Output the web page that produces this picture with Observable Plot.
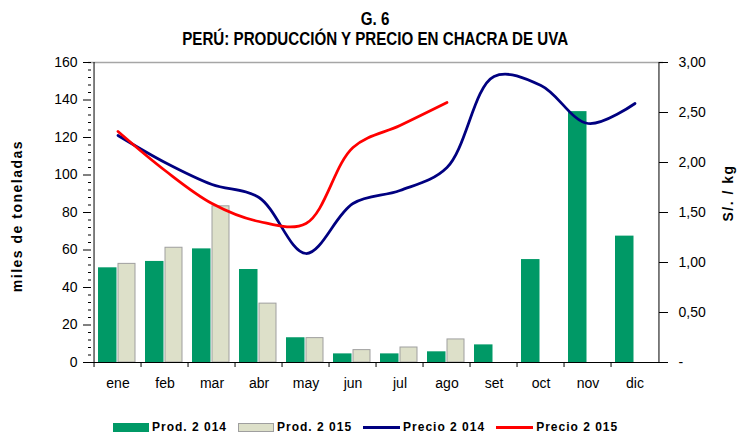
<!DOCTYPE html>
<html>
<head>
<meta charset="utf-8">
<script src="https://cdn.jsdelivr.net/npm/d3@7"></script>
<script src="https://cdn.jsdelivr.net/npm/@observablehq/plot@0.6"></script>
<style>
  html, body { margin: 0; padding: 0; background: #fff; }
  #wrap { position: relative; width: 738px; height: 433px; overflow: hidden; font-family: "Liberation Sans", Arial, sans-serif; color: #000; }
  .title { position: absolute; left: 0; width: 750px; text-align: center; font-weight: bold; font-size: 18px; line-height: 20px; white-space: nowrap; }
  .title span { display: inline-block; font-family: "Liberation Sans Narrow", "Arial Narrow", "Liberation Sans", Arial, sans-serif; transform-origin: 50% 50%; }
  #t1 { top: 9px; }
  #t2 { top: 29px; }
  #chart { position: absolute; left: 0; top: 50px; }
  .axlab { position: absolute; width: 220px; text-align: center; font-weight: bold; font-size: 14px; line-height: 16px; letter-spacing: 1.5px; white-space: nowrap; transform: rotate(-90deg); transform-origin: 50% 50%; }
  #legend { position: absolute; left: 113px; top: 419px; height: 16px; display: flex; align-items: center; font-size: 12px; font-weight: bold; letter-spacing: 1px; white-space: nowrap; }
  .item { display: flex; align-items: center; margin-right: 11px; }
  .sw { width: 36px; height: 9px; margin-right: 3px; box-sizing: border-box; }
  .ln { width: 37px; height: 3px; margin-right: 3px; }
</style>
</head>
<body>
<div id="wrap">
  <div id="t1" class="title"><span>G. 6</span></div>
  <div id="t2" class="title"><span>PERÚ: PRODUCCIÓN Y PRECIO EN CHACRA DE UVA</span></div>
  <div id="chart"></div>
  <div class="axlab" id="ylab" style="left:-93px; top:208px;">miles de toneladas</div>
  <div class="axlab" id="y2lab" style="left:618px; top:185px;">S/. / kg</div>
  <div id="legend"></div>
</div>
<script>
// ---- data ----
const months = ["ene","feb","mar","abr","may","jun","jul","ago","set","oct","nov","dic"];
const prod2014 = [50.5, 53.9, 60.6, 49.6, 13.2, 4.6, 4.6, 5.7, 9.4, 54.9, 133.8, 67.4];
const prod2015 = [52.6, 61.2, 83.3, 31.4, 13.0, 6.6, 8.0, 12.3];
const precio2014 = [2.27, 2.00, 1.78, 1.65, 1.09, 1.59, 1.72, 1.95, 2.86, 2.77, 2.39, 2.59];
const precio2015 = [2.31, 1.92, 1.59, 1.41, 1.39, 2.15, 2.37, 2.60];
const leftTicks = [0, 20, 40, 60, 80, 100, 120, 140, 160];
const leftMinorTicks = d3.range(0, 161, 4);
const rightTicks = [0, 0.5, 1, 1.5, 2, 2.5, 3];
const rightTickLabels = ["-", "0,50", "1,00", "1,50", "2,00", "2,50", "3,00"];
const seriesNames = ["Prod. 2 014", "Prod. 2 015", "Precio 2 014", "Precio 2 015"];
const seriesColors = ["#009966", "#dde0c9", "#000080", "#ff0000"];

// ---- tables ----
const k = 160 / 3; // right axis (S/./kg) mapped onto left scale
const rows14 = prod2014.map((v, i) => ({month: months[i], v}));
const rows15 = prod2015.map((v, i) => ({month: months[i], v}));
const p14 = precio2014.map((p, i) => ({month: months[i], p}));
const p15 = precio2015.map((p, i) => ({month: months[i], p}));
const rightTicksScaled = rightTicks.map(v => v * k);

const W = 738, H = 355, ML = 88, MR = 75, MT = 12, MB = 43;
const bw = (W - ML - MR) / months.length;

const chart = Plot.plot({
  width: W, height: H,
  marginLeft: ML, marginRight: MR, marginTop: MT, marginBottom: MB,
  x: {type: "band", domain: months, padding: 0, axis: null},
  y: {domain: [0, 160], axis: null},
  style: {fontFamily: "'Liberation Sans', Arial, sans-serif", fontSize: "14px", color: "#000", background: "#fff", overflow: "visible"},
  marks: [
    Plot.barY(rows14, {x: "month", y: "v", fill: seriesColors[0], insetLeft: 4, insetRight: 24.5}),
    Plot.barY(rows15, {x: "month", y: "v", fill: seriesColors[1], stroke: "#9f9f9f", strokeWidth: 1, insetLeft: 24, insetRight: 6}),
    Plot.ruleY([160], {stroke: "#a6a6a6", strokeWidth: 1.5}),
    Plot.ruleY([0], {stroke: "#000", strokeWidth: 1}),
    Plot.ruleX([months[0]], {dx: -bw / 2, stroke: "#000"}),
    Plot.ruleX([months[months.length - 1]], {dx: bw / 2, stroke: "#000"}),
    // left axis
    Plot.axisY(leftTicks, {anchor: "left", tickSize: 5, tickPadding: 6, label: null}),
    Plot.axisY(leftMinorTicks, {anchor: "left", tickSize: -3, tickFormat: () => "", label: null}),
    // right axis
    Plot.axisY(rightTicksScaled, {anchor: "right", tickSize: 4, tickPadding: 11, label: null,
      tickFormat: d => rightTickLabels[rightTicksScaled.indexOf(d)]}),
    Plot.axisY(rightTicksScaled, {anchor: "right", tickSize: -5, tickFormat: () => "", label: null}),
    // x axis
    Plot.axisX({tickSize: 0, tickPadding: 16, label: null}),
    Plot.axisX({tickSize: 5, dx: -bw / 2, tickFormat: () => "", label: null}),
    // price lines
    Plot.line(p14, {x: "month", y: d => d.p * k, stroke: seriesColors[2], strokeWidth: 2.75, curve: "catmull-rom"}),
    Plot.line(p15, {x: "month", y: d => d.p * k, stroke: seriesColors[3], strokeWidth: 2.75, curve: "catmull-rom"})
  ]
});
document.getElementById("chart").appendChild(chart);

// ---- legend ----
const legend = document.getElementById("legend");
seriesNames.forEach((name, i) => {
  const item = document.createElement("div");
  item.className = "item";
  const sw = document.createElement("div");
  if (i < 2) {
    sw.className = "sw";
    sw.style.background = seriesColors[i];
    if (i === 1) sw.style.border = "1px solid #9f9f9f";
  } else {
    sw.className = "ln";
    sw.style.background = seriesColors[i];
  }
  const tx = document.createElement("span");
  tx.textContent = name;
  item.appendChild(sw);
  item.appendChild(tx);
  legend.appendChild(item);
});

// ---- fit title width ----
const s2 = document.querySelector("#t2 span");
const w2 = s2.getBoundingClientRect().width;
const sc = 386 / w2;
document.querySelectorAll(".title span").forEach(s => s.style.transform = `scaleX(${sc})`);
</script>
</body>
</html>
